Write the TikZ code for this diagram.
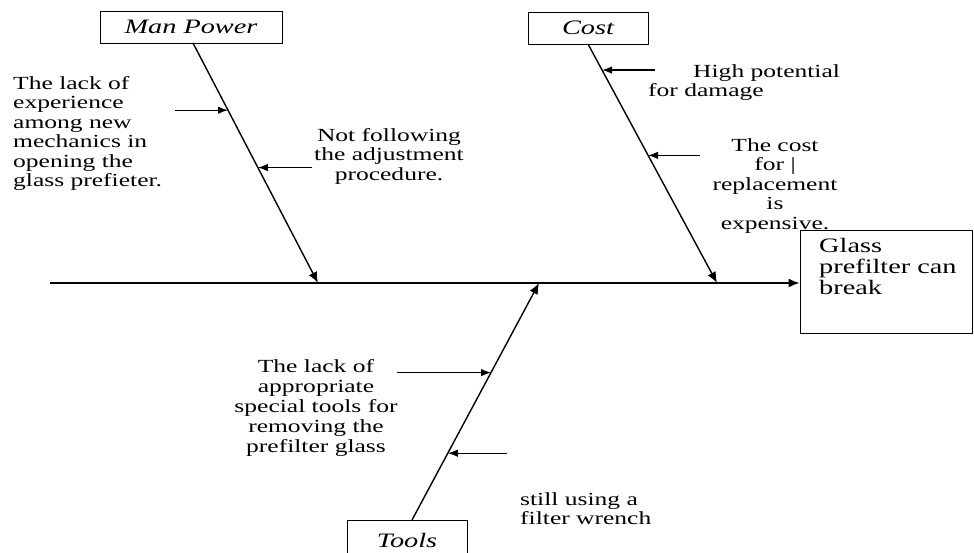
\documentclass[tikz,border=0pt]{standalone}
\usepackage{fontspec}
\setmainfont[FakeStretch=1.38]{Liberation Serif}
\usetikzlibrary{arrows.meta,calc}
\begin{document}
\begin{tikzpicture}[x=1pt,y=-1pt,
  catbox/.style={draw,line width=1pt,inner sep=0pt,font=\fontsize{20.5}{21}\selectfont\itshape},
  effbox/.style={draw,line width=1pt,inner sep=0pt},
  cause/.style={inner sep=0pt,font=\fontsize{18.5}{19.5}\selectfont},
  bone/.style={line width=1.4pt,-{Latex[length=11pt,width=9pt]}},
  sub/.style={line width=1.2pt,-{Latex[length=10pt,width=7.5pt]}}]
\useasboundingbox (0,0) rectangle (974,552);
\clip (0,0) rectangle (974,552);
% boxes
\node[catbox,minimum width=182pt,minimum height=32pt] (mp) at (191,27) {Man Power};
\node[catbox,minimum width=120pt,minimum height=32pt] (cost) at (588,28) {Cost};
\node[catbox,minimum width=120pt,minimum height=40pt] (tools) at (407,540) {};
\node[inner sep=0pt,font=\fontsize{20.5}{21}\selectfont\itshape] (toolslbl) at (407,540) {Tools};
\node[effbox,minimum width=172pt,minimum height=103pt] (eff) at (886,281.5) {};
\node[inner sep=0pt,anchor=north west,align=left,font=\fontsize{20.5}{21}\selectfont] (efftxt) at (819,238) {Glass\\prefilter can\\break};
% spine
\coordinate (s0) at (50,283);
\coordinate (jmp) at (318,283);
\coordinate (jcost) at (717,283);
\coordinate (jtools) at (539,283);
\draw[bone] (s0) -- (s0 -| eff.west);
% branches
\coordinate (mptop) at (193,43);
\coordinate (costtop) at (588,44);
\coordinate (toolsbot) at (412,520);
\draw[bone] (mptop) -- (jmp);
\draw[bone] (costtop) -- (jcost);
\draw[bone] (toolsbot) -- (jtools);
% points on branches
\path (mptop) -- (jmp) coordinate[pos=0.28] (m1) coordinate[pos=0.519] (m2);
\path (costtop) -- (jcost) coordinate[pos=0.109] (c1) coordinate[pos=0.466] (c2);
\path (toolsbot) -- (jtools) coordinate[pos=0.622] (t1) coordinate[pos=0.282] (t2);
\coordinate (m1a) at ($(m1)+(-53,0)$);
\coordinate (m2a) at ($(m2)+(54,0)$);
\coordinate (c1a) at ($(c1)+(53,0)$);
\coordinate (c2a) at ($(c2)+(52,0)$);
\coordinate (t1a) at ($(t1)+(-94,0)$);
\coordinate (t2a) at ($(t2)+(59,0)$);
\draw[sub] (m1a) -- (m1);
\draw[sub] (m2a) -- (m2);
\draw[sub] (c1a) -- (c1);
\draw[sub] (c2a) -- (c2);
\draw[sub] (t1a) -- (t1);
\draw[sub] (t2a) -- (t2);
% texts
\node[cause,anchor=north west,align=left] (txm1) at (13,76) {The lack of\\experience\\among new\\mechanics in\\opening the\\glass prefieter.};
\node[cause,anchor=north,align=center] (txm2) at (389,128) {Not following\\the adjustment\\procedure.};
\node[cause,anchor=north west,align=left] (txc1) at (648,64) {\hspace*{45pt}High potential\\for damage};
\node[cause,anchor=north,align=center] (txc2) at (775,138) {The cost\\for |\\replacement\\is\\expensive.};
\node[cause,anchor=north,align=center,font=\fontsize{18.5}{20}\selectfont] (txt1) at (316,359) {The lack of\\appropriate\\special tools for\\removing the\\prefilter glass};
\node[cause,anchor=north west,align=left] (txt2) at (520,492) {still using a\\filter wrench};
\end{tikzpicture}
\end{document}
